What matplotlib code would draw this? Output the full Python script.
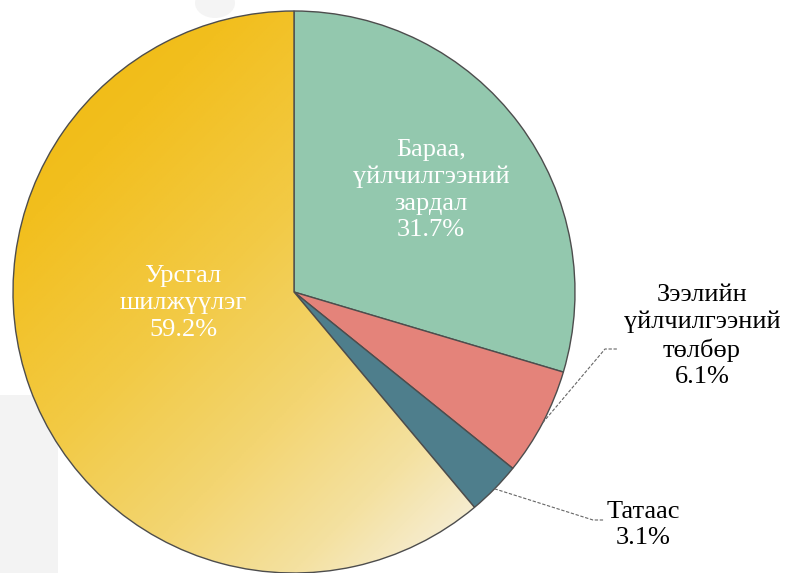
import numpy as np
import matplotlib
matplotlib.use("Agg")
import matplotlib.pyplot as plt
from matplotlib.colors import LinearSegmentedColormap
from matplotlib.patches import Rectangle, Ellipse

# slice sizes as drawn in the picture (clockwise from 12 o'clock)
shares = [29.6, 6.2, 3.1, 61.1]
# the percentages printed on the chart
pct_labels = ["31.7%", "6.1%", "3.1%", "59.2%"]
names = ["Бараа,\nүйлчилгээний\nзардал",
         "Зээлийн\nүйлчилгээний\nтөлбөр",
         "Татаас",
         "Урсгал\nшилжүүлэг"]
colors = ["#93C8AE", "#E4837A", "#4E7E8C", "#F2C02A"]

FONT = ["Liberation Serif", "DejaVu Serif"]
plt.rcParams["font.family"] = FONT

W, H = 790, 573
fig = plt.figure(figsize=(7.9, 5.73), dpi=100)
ax = fig.add_axes([0, 0, 1, 1])

# faint watermark behind the chart
ax.add_patch(Rectangle((0, 0), 58, 178, color="#F3F3F3", zorder=0, lw=0))
ax.add_patch(Ellipse((215, 570), 40, 30, color="#F4F4F4", zorder=0, lw=0))

cx, cy, r = 294, H - 292, 281
wedges, _ = ax.pie(shares, colors=colors, startangle=90, counterclock=False,
                   center=(cx, cy), radius=r, frame=True,
                   wedgeprops=dict(edgecolor="#4d4d4d", linewidth=1.0))

# yellow slice: diagonal gradient, dark top-left to cream bottom-right
stops = [(0.0, "#F1B80C"), (0.2, "#F2BF1E"), (0.42, "#F2CA45"),
         (0.6, "#F3D571"), (0.75, "#F4E1A0"), (0.86, "#F6EDD2"), (1.0, "#F8F4E6")]
cmap = LinearSegmentedColormap.from_list("yel", stops)
xs = np.linspace(0, 1, 300)
gx, gy = np.meshgrid(xs, xs)
grad = (gx + (1 - gy)) / 2
img = ax.imshow(grad, cmap=cmap, vmin=0, vmax=1, origin="lower",
                extent=(cx - r, cx + r, cy - r, cy + r), zorder=1.5,
                interpolation="bilinear")
img.set_clip_path(wedges[3])
wedges[3].set_zorder(2)
wedges[3].set_facecolor("none")
ax.set_xlim(0, W)
ax.set_ylim(0, H)
ax.set_aspect("equal")
ax.axis("off")

# inner text labels
txt = dict(fontsize=19, family=FONT, ha="center", va="center", linespacing=1.28)
ax.text(431, H - 190, names[0] + "\n" + pct_labels[0], color="white", **txt)
ax.text(183, H - 303, names[3] + "\n" + pct_labels[3], color="white", **txt)

# outer labels with dashed leader lines
outer = [(1, 702, 336, 617, 349, 605), (2, 643, 525, 604, 520, 593)]
for i, tx, ty, lx, ly, kx in outer:
    ax.text(tx, H - ty, names[i] + "\n" + pct_labels[i], color="black", **txt)
    w = wedges[i]
    mid = np.deg2rad((w.theta1 + w.theta2) / 2)
    sx, sy = cx + r * np.cos(mid), cy + r * np.sin(mid)
    ax.plot([sx, kx, lx], [sy, H - ly, H - ly], color="#666666", lw=0.8,
            ls=(0, (3, 1.5)), zorder=3)

fig.savefig("out.png", dpi=100)
